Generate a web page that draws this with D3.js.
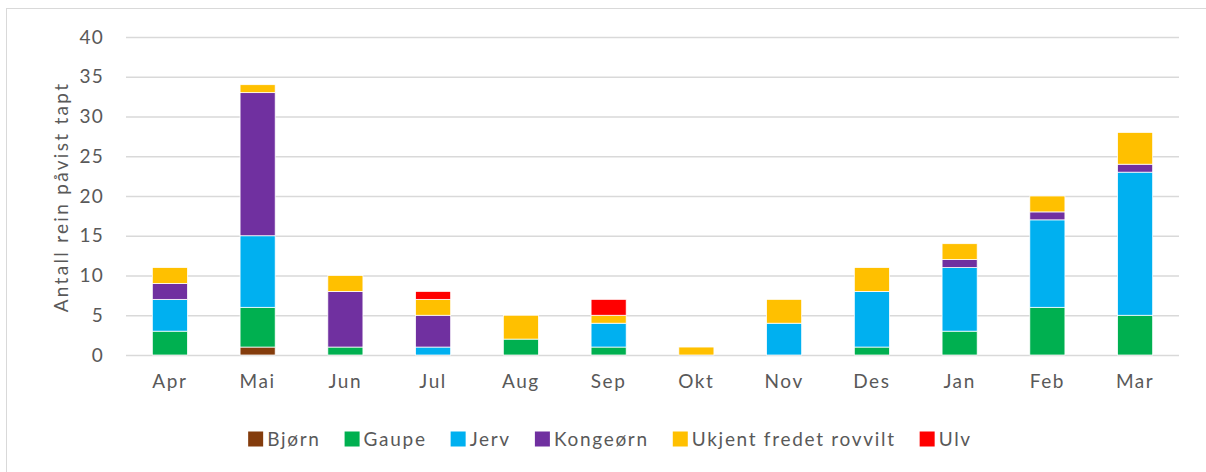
<!DOCTYPE html>
<html><head><meta charset="utf-8">
<script src="https://cdn.jsdelivr.net/npm/d3@7"></script>
<style>body{margin:0;background:#fff;}svg{display:block;font-family:Lato,"Open Sans",sans-serif;}</style>
</head><body>
<svg id="c" width="1206" height="472"></svg>
<script>
const months = ["Apr","Mai","Jun","Jul","Aug","Sep","Okt","Nov","Des","Jan","Feb","Mar"];
const seriesNames = ["Bjørn","Gaupe","Jerv","Kongeørn","Ukjent fredet rovvilt","Ulv"];
const bjorn    = [0,1,0,0,0,0,0,0,0,0,0,0];
const gaupe    = [3,5,1,0,2,1,0,0,1,3,6,5];
const jerv     = [4,9,0,1,0,3,0,4,7,8,11,18];
const kongeorn = [2,18,7,4,0,0,0,0,0,1,1,1];
const ukjent   = [2,1,2,2,3,1,1,3,3,2,2,4];
const ulv      = [0,0,0,1,0,2,0,0,0,0,0,0];
const yTicks = [0,5,10,15,20,25,30,35,40];
const colors = ["#843C0C","#00B050","#00B0F0","#7030A0","#FFC000","#FF0000"];
const yTitle = "Antall rein påvist tapt";

const seriesVals = [bjorn,gaupe,jerv,kongeorn,ukjent,ulv];
const rows = months.map((m,i)=>{const o={month:m};seriesNames.forEach((s,j)=>o[s]=seriesVals[j][i]);return o;});
const stack = d3.stack().keys(seriesNames)(rows);

const svg = d3.select("#c");
svg.append("rect").attr("x",6.5).attr("y",8.5).attr("width",1210).attr("height",480)
  .attr("fill","#fff").attr("stroke","#d9d9d9").attr("stroke-width",1);

const x = d3.scaleBand().domain(months).range([126,1179]).paddingInner(0.6).paddingOuter(0.3);
const y = d3.scaleLinear().domain([0,40]).range([355,37]);
const txt = "#595959";

const yAxis = svg.append("g").attr("transform","translate(126,0)")
  .call(d3.axisLeft(y).tickValues(yTicks).tickSize(-1053).tickPadding(22));
yAxis.select(".domain").remove();
yAxis.selectAll(".tick line").attr("stroke","#d9d9d9").attr("stroke-width",1.5);
yAxis.selectAll(".tick text").attr("fill",txt).attr("font-size",19).attr("font-family","Lato,sans-serif")
  .attr("letter-spacing",1.2);

const g = svg.append("g");
stack.forEach((s,j)=>{
  g.selectAll(null).data(s).join("rect")
    .attr("x",d=>x(d.data.month)).attr("width",x.bandwidth())
    .attr("y",d=>y(d[1])).attr("height",d=>Math.max(0,y(d[0])-y(d[1])))
    .attr("fill",colors[j]).attr("stroke","#fff").attr("stroke-width",0.75)
    .style("display",d=>d[1]-d[0]>0?null:"none");
});

const xAxis = svg.append("g").attr("transform","translate(0,355)")
  .call(d3.axisBottom(x).tickSize(0).tickPadding(20));
xAxis.select(".domain").remove();
xAxis.selectAll(".tick text").attr("fill",txt).attr("font-size",19).attr("font-family","Lato,sans-serif")
  .attr("letter-spacing",1.6);

svg.append("text").attr("transform","translate(68,197) rotate(-90)")
  .attr("text-anchor","middle").attr("fill",txt).attr("font-size",19).attr("letter-spacing",2.3).text(yTitle);

const leg = svg.append("g").attr("transform","translate(0,439)");
const items = leg.selectAll("g").data(seriesNames).join("g");
items.append("rect").attr("width",15).attr("height",15).attr("y",-7.5).attr("fill",(d,i)=>colors[i]);
items.append("text").attr("x",19).attr("dy","0.35em").attr("fill",txt).attr("font-size",19)
  .attr("letter-spacing",1.7).text(d=>d);
let widths=[]; items.each(function(){widths.push(19+this.querySelector("text").getComputedTextLength());});
const gap=24; const total=d3.sum(widths)+gap*(widths.length-1);
let cx=610-total/2;
items.attr("transform",(d,i)=>{const t=`translate(${cx},0)`;cx+=widths[i]+gap;return t;});
</script>
</body></html>
